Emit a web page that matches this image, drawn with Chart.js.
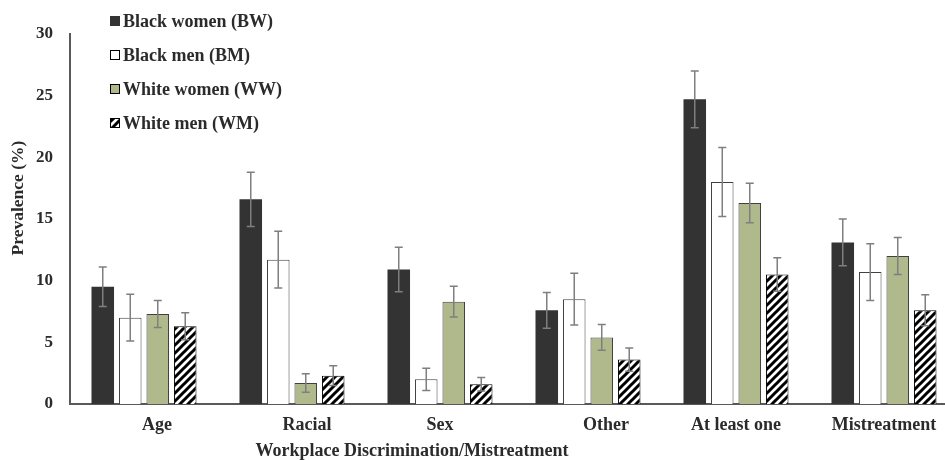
<!DOCTYPE html>
<html>
<head>
<meta charset="utf-8">
<script src="https://cdn.jsdelivr.net/npm/chart.js@4"></script>
<style>
  html, body { margin: 0; padding: 0; background: #fff; overflow: hidden; }
  #wrap { position: relative; width: 958px; height: 460px; }
</style>
</head>
<body>
<div id="wrap"><canvas id="chart"></canvas></div>
<script>
const categories = ['Age', 'Racial', 'Sex', 'Other', 'At least one', 'Mistreatment'];
const seriesNames = ['Black women (BW)', 'Black men (BM)', 'White women (WW)', 'White men (WM)'];

const bwValues = [9.5, 16.6, 10.9, 7.6, 24.7, 13.1];
const bmValues = [7.0, 11.7, 2.0, 8.5, 18.0, 10.7];
const wwValues = [7.3, 1.7, 8.3, 5.4, 16.3, 12.0];
const wmValues = [6.3, 2.3, 1.6, 3.6, 10.5, 7.6];

// half width of the error bars
const bwErr = [1.6, 2.2, 1.8, 1.45, 2.3, 1.9];
const bmErr = [1.9, 2.3, 0.9, 2.1, 2.8, 2.3];
const wwErr = [1.1, 0.75, 1.25, 1.05, 1.6, 1.5];
const wmErr = [1.1, 0.8, 0.55, 0.95, 1.35, 1.25];

const yTicks = [0, 5, 10, 15, 20, 25, 30];
const yTitle = 'Prevalence (%)';
const xTitle = 'Workplace Discrimination/Mistreatment';

const FONT = "'Liberation Serif', 'Times New Roman', serif";
const TEXT = '#2b2b2b';
const labelShift = [13, 15, 0, 18, 0, 0];

function hatch() {
    const c = document.createElement('canvas');
    c.width = 8; c.height = 8;
    const g = c.getContext('2d');
    g.fillStyle = '#fff';
    g.fillRect(0, 0, 8, 8);
    g.strokeStyle = '#000';
    g.lineWidth = 3;
    g.beginPath();
    g.moveTo(-2, 10); g.lineTo(10, -2);
    g.moveTo(-2, 2); g.lineTo(2, -2);
    g.moveTo(6, 10); g.lineTo(10, 6);
    g.stroke();
    return g.createPattern(c, 'repeat');
}
const wmPattern = hatch();

const errors = [bwErr, bmErr, wwErr, wmErr];

const errorBars = {
    id: 'errorBars',
    afterDatasetsDraw(chart) {
        const ctx = chart.ctx;
        const y = chart.scales.y;
        ctx.save();
        ctx.strokeStyle = '#7f7f7f';
        ctx.lineWidth = 1.5;
        chart.data.datasets.forEach((ds, i) => {
            chart.getDatasetMeta(i).data.forEach((bar, j) => {
                const v = ds.data[j], e = errors[i][j];
                const top = y.getPixelForValue(v + e);
                const bot = y.getPixelForValue(v - e);
                ctx.beginPath();
                ctx.moveTo(bar.x, top); ctx.lineTo(bar.x, bot);
                ctx.moveTo(bar.x - 4, top); ctx.lineTo(bar.x + 4, top);
                ctx.moveTo(bar.x - 4, bot); ctx.lineTo(bar.x + 4, bot);
                ctx.stroke();
            });
        });
        ctx.restore();
    }
};

const texts = {
    id: 'texts',
    afterDraw(chart) {
        const ctx = chart.ctx;
        const x = chart.scales.x;
        ctx.save();
        ctx.fillStyle = TEXT;
        ctx.font = 'bold 18px ' + FONT;
        ctx.textAlign = 'center';
        ctx.textBaseline = 'middle';
        categories.forEach((c, j) => {
            ctx.fillText(c, x.getPixelForValue(j) + labelShift[j], 425);
        });
        ctx.fillText(xTitle, 412, 451);

        ctx.save();
        ctx.font = 'bold 17.5px ' + FONT;
        ctx.translate(18, 198);
        ctx.rotate(-Math.PI / 2);
        ctx.fillText(yTitle, 0, 0);
        ctx.restore();

        // legend
        ctx.textAlign = 'left';
        const rows = [21, 55, 89, 123];
        chart.data.datasets.forEach((ds, i) => {
            const yy = rows[i];
            ctx.fillStyle = ds.backgroundColor;
            ctx.fillRect(110, yy - 5, 10, 10);
            ctx.strokeStyle = i === 0 ? '#333' : '#000';
            ctx.lineWidth = 1;
            ctx.strokeRect(110.5, yy - 4.5, 9, 9);
            ctx.fillStyle = TEXT;
            ctx.fillText(seriesNames[i], 123, yy + 1);
        });
        ctx.restore();
    }
};

new Chart(document.getElementById('chart'), {
    type: 'bar',
    data: {
        labels: categories,
        datasets: [
            { label: seriesNames[0], data: bwValues, backgroundColor: '#333333', borderWidth: 0 },
            { label: seriesNames[1], data: bmValues, backgroundColor: '#ffffff', borderColor: '#404040', borderWidth: 1 },
            { label: seriesNames[2], data: wwValues, backgroundColor: '#afb98b', borderColor: '#404040', borderWidth: 1 },
            { label: seriesNames[3], data: wmValues, backgroundColor: wmPattern, borderColor: '#000000', borderWidth: 1 }
        ]
    },
    options: {
        responsive: true,
        maintainAspectRatio: false,
        animation: false,
        categoryPercentage: 0.743,
        barPercentage: 0.82,
        layout: { padding: { top: 34, left: 0, right: 0, bottom: 0 } },
        plugins: { legend: { display: false }, tooltip: { enabled: false } },
        scales: {
            x: {
                grid: { display: false, drawTicks: false },
                border: { color: '#595959', width: 2 },
                ticks: { display: false },
                afterFit: (s) => { s.height = 56; }
            },
            y: {
                min: 0, max: 30,
                afterBuildTicks: (s) => { s.ticks = yTicks.map(v => ({ value: v })); },
                grid: { display: false, drawTicks: false },
                border: { color: '#595959', width: 2 },
                ticks: { color: TEXT, padding: 17, font: { family: FONT, size: 17, weight: 'bold' } },
                afterFit: (s) => { s.width = 70; }
            }
        }
    },
    plugins: [errorBars, texts]
});
</script>
</body>
</html>
